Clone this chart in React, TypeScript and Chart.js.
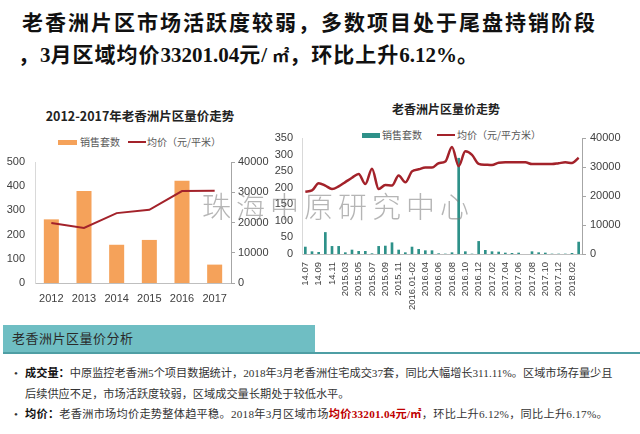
import React, { useEffect, useRef } from "react";
import { Chart, registerables } from "chart.js";
Chart.register(...registerables);

// ---- Left chart data (annual) ----
const yearCats = ["2012", "2013", "2014", "2015", "2016", "2017"];
const yearSales = [263, 380, 158, 178, 423, 76];
const yearPrice = [19800, 18200, 23100, 24200, 30400, 30500];
const yearSalesTicks = [0, 100, 200, 300, 400, 500];
const yearPriceTicks = [0, 10000, 20000, 30000, 40000];

// ---- Right chart data (monthly) ----
const monthCats = [
  "14.07", "14.08", "14.09", "14.10", "14.11", "2015.01-02",
  "2015.03", "2015.04", "2015.05", "2015.06", "2015.07", "2015.08",
  "2015.09", "2015.10", "2015.11", "2015.12", "2016.01-02", "2016.03",
  "2016.04", "2016.05", "2016.06", "2016.07", "2016.08", "2016.09",
  "2016.10", "2016.11", "2016.12", "2017.01", "2017.02", "2017.03",
  "2017.04", "2017.05", "2017.06", "2017.07", "2017.08", "2017.09",
  "2017.10", "2017.11", "2017.12", "2018.01", "2018.02", "2018.03",
];
const monthSales = [
  22, 8, 6, 66, 24, 24, 5, 13, 9, 9, 2, 24, 25, 35, 13, 5, 22, 15, 11, 11, 2,
  1, 5, 290, 8, 1, 39, 12, 8, 7, 4, 3, 4, 0, 8, 5, 4, 1, 1, 1, 3, 37,
];
const monthPrice = [
  21500, 21900, 24400, 23600, 22400, 23300, 24800, 26300, 27600, 24100, 29400,
  22400, 23800, 23600, 27100, 24700, 28500, 29200, 29800, 29800, 31300, 31900,
  36900, 30300, 35400, 34200, 31100, 30800, 30700, 31500, 31600, 31600, 31600,
  31600, 31000, 31000, 31000, 31000, 31300, 31600, 31400, 33201,
];

const SANS = '"Liberation Sans", "Noto Sans CJK SC", sans-serif';
const CJK = '"Noto Sans CJK SC", "Liberation Sans", sans-serif';
const SERIF = '"Liberation Serif", "Noto Sans CJK SC", serif';
const ORANGE = "#F5A25A";
const TEAL = "#2E9189";
const RED = "#A3222A";
const TICK = "#404040";
const plain = (v: any) => String(v);

function LeftChart() {
  const ref = useRef<HTMLCanvasElement>(null);
  useEffect(() => {
    const chart = new Chart(ref.current!, {
      type: "bar",
      data: {
        labels: yearCats,
        datasets: [
          {
            type: "line",
            label: "均价（元/平米）",
            data: yearPrice,
            yAxisID: "y1",
            borderColor: RED,
            borderWidth: 2,
            pointRadius: 0,
            tension: 0,
            order: 0,
          } as any,
          {
            type: "bar",
            label: "销售套数",
            data: yearSales,
            yAxisID: "y",
            backgroundColor: ORANGE,
            barPercentage: 0.46,
            categoryPercentage: 1,
            order: 1,
          },
        ],
      },
      options: {
        responsive: false,
        animation: false,
        layout: { padding: { top: 62, left: 0, right: 0, bottom: 0 } },
        plugins: { legend: { display: false }, tooltip: { enabled: false } },
        scales: {
          x: {
            grid: { display: false, drawTicks: false },
            border: { color: "#BFBFBF" },
            ticks: { color: TICK, font: { family: SANS, size: 11 }, padding: 9 },
            afterFit: (s: any) => { s.height = 27; },
          },
          y: {
            position: "left",
            min: 0,
            max: 500,
            afterBuildTicks: (s: any) => { s.ticks = yearSalesTicks.map((v) => ({ value: v })); },
            grid: { display: false, drawTicks: false },
            border: { color: "#D9D9D9" },
            ticks: { color: TICK, font: { family: SANS, size: 11 }, padding: 10, callback: plain },
            afterFit: (s: any) => { s.width = 35; },
          },
          y1: {
            position: "right",
            min: 0,
            max: 40000,
            afterBuildTicks: (s: any) => { s.ticks = yearPriceTicks.map((v) => ({ value: v })); },
            grid: { drawOnChartArea: false, drawTicks: true, tickLength: 4, color: "#A6A6A6" },
            border: { color: "#A6A6A6" },
            ticks: { color: TICK, font: { family: SANS, size: 11 }, padding: 3, callback: plain },
            afterFit: (s: any) => { s.width = 39; },
          },
        },
      },
    });
    return () => chart.destroy();
  }, []);
  return (
    <canvas ref={ref} width={270} height={210} style={{ position: "absolute", left: 0, top: 100 }} />
  );
}

function RightChart() {
  const ref = useRef<HTMLCanvasElement>(null);
  useEffect(() => {
    const chart = new Chart(ref.current!, {
      type: "bar",
      data: {
        labels: monthCats,
        datasets: [
          {
            type: "line",
            label: "均价（元/平方米）",
            data: monthPrice,
            yAxisID: "y1",
            borderColor: RED,
            borderWidth: 2.5,
            pointRadius: 0,
            tension: 0.4,
            cubicInterpolationMode: "monotone",
            order: 0,
          } as any,
          {
            type: "bar",
            label: "销售套数",
            data: monthSales,
            yAxisID: "y",
            backgroundColor: TEAL,
            barPercentage: 0.4,
            categoryPercentage: 1,
            order: 1,
          },
        ],
      },
      options: {
        responsive: false,
        animation: false,
        layout: { padding: { top: 38, left: 0, right: 0, bottom: 0 } },
        plugins: { legend: { display: false }, tooltip: { enabled: false } },
        scales: {
          x: {
            grid: { display: false, drawTicks: false },
            border: { color: "#BFBFBF" },
            ticks: {
              color: TICK,
              font: { family: SANS, size: 9.5 },
              padding: 8,
              autoSkip: false,
              minRotation: 90,
              maxRotation: 90,
              callback: (_v: any, i: number) => (i % 2 === 0 ? monthCats[i] : ""),
            },
            afterFit: (s: any) => { s.height = 61; },
          },
          y: {
            position: "left",
            min: 0,
            max: 350,
            ticks: { stepSize: 50, color: TICK, font: { family: SANS, size: 11 }, padding: 9, callback: plain },
            grid: { display: false, drawTicks: false },
            border: { color: "#D9D9D9" },
            afterFit: (s: any) => { s.width = 32; },
          },
          y1: {
            position: "right",
            min: 0,
            max: 40000,
            ticks: { stepSize: 5000, color: TICK, font: { family: SANS, size: 11 }, padding: 4, callback: plain },
            grid: { drawOnChartArea: false, drawTicks: true, tickLength: 4, color: "#A6A6A6" },
            border: { color: "#A6A6A6" },
            afterFit: (s: any) => { s.width = 58; },
          },
        },
      },
    });
    return () => chart.destroy();
  }, []);
  return (
    <canvas ref={ref} width={370} height={215} style={{ position: "absolute", left: 270, top: 100 }} />
  );
}

function T(props: {
  x: number; cy: number; size: number; h?: number; children: React.ReactNode;
  style?: React.CSSProperties; w?: number; align?: "left" | "center";
}) {
  const h = props.h ?? Math.round(props.size * 1.4);
  return (
    <div
      style={{
        position: "absolute",
        left: props.x,
        top: props.cy - h / 2,
        height: h,
        lineHeight: `${h}px`,
        fontSize: props.size,
        whiteSpace: "nowrap",
        width: props.w,
        textAlign: props.align ?? "left",
        ...props.style,
      }}
    >
      {props.children}
    </div>
  );
}

export default function App() {
  useEffect(() => {
    document.body.style.margin = "0";
  }, []);
  const headStyle: React.CSSProperties = {
    fontFamily: SERIF, fontWeight: 700, color: "#111", letterSpacing: 2,
  };
  const lat: React.CSSProperties = { letterSpacing: 0 };
  const bodyStyle: React.CSSProperties = {
    fontFamily: SERIF, color: "#333", letterSpacing: 0,
  };
  const legendStyle: React.CSSProperties = { fontFamily: CJK, color: "#595959" };
  return (
    <div style={{ position: "relative", width: 640, height: 434, background: "#fff", overflow: "hidden" }}>
      {/* Header */}
      <T x={22} cy={23} size={21} style={headStyle}>老香洲片区市场活跃度较弱，多数项目处于尾盘持销阶段</T>
      <T x={18} cy={55} size={21} style={{ ...headStyle, letterSpacing: 1 }}>
        ，<span style={lat}>3</span>月区域均价<span style={lat}>33201.04</span>元<span style={lat}>/ </span><span style={{ fontSize: 17, letterSpacing: 0 }}>㎡</span>，环比上升<span style={lat}>6.12%</span>。
      </T>

      {/* Left chart */}
      <T x={30} w={220} align="center" cy={116} size={12.5} style={{ fontFamily: CJK, fontWeight: 700, color: "#222" }}>
        2012-2017年老香洲片区量价走势
      </T>
      <div style={{ position: "absolute", left: 58, top: 140, width: 19, height: 5, background: ORANGE }} />
      <T x={80} cy={142} size={10} style={legendStyle}>销售套数</T>
      <div style={{ position: "absolute", left: 128, top: 141, width: 18, height: 2, background: RED }} />
      <T x={147} cy={142} size={10} style={legendStyle}>均价（元/平米）</T>
      <LeftChart />

      {/* Right chart */}
      <T x={360} w={172} align="center" cy={108} size={12} style={{ fontFamily: CJK, fontWeight: 700, color: "#222" }}>
        老香洲片区量价走势
      </T>
      <div style={{ position: "absolute", left: 362, top: 133, width: 18, height: 5, background: TEAL }} />
      <T x={382} cy={135} size={10} style={legendStyle}>销售套数</T>
      <div style={{ position: "absolute", left: 437, top: 134, width: 18, height: 2, background: RED }} />
      <T x={457} cy={135} size={10} style={legendStyle}>均价（元/平方米）</T>
      <RightChart />

      {/* Watermark */}
      <T x={202} cy={205} size={29} style={{ fontFamily: CJK, fontWeight: 300, color: "rgba(120,120,120,0.55)", letterSpacing: 5 }}>
        珠海中原研究中心
      </T>

      {/* Bottom section */}
      <div style={{ position: "absolute", left: 3, top: 325, width: 312, height: 27, background: "#6FBEC3" }} />
      <div style={{ position: "absolute", left: 3, top: 352, width: 637, height: 2, background: "#4E9EA4" }} />
      <T x={12} cy={339} size={13} style={{ fontFamily: SERIF, color: "#2a2a2a", letterSpacing: 0.5 }}>老香洲片区量价分析</T>

      <T x={14} cy={373} size={11.2} style={bodyStyle}>•</T>
      <T x={25} cy={373} size={11.2} style={bodyStyle}>
        <b style={{ color: "#111" }}>成交量：</b>中原监控老香洲5个项目数据统计，2018年3月老香洲住宅成交37套，同比大幅增长311.11%。区域市场存量少且
      </T>
      <T x={25} cy={394} size={11.2} style={bodyStyle}>后续供应不足，市场活跃度较弱，区域成交量长期处于较低水平。</T>
      <T x={14} cy={414} size={11.2} style={bodyStyle}>•</T>
      <T x={25} cy={414} size={11.2} style={{ ...bodyStyle, letterSpacing: 0.25 }}>
        <b style={{ color: "#111" }}>均价：</b>老香洲市场均价走势整体趋平稳。2018年3月区域市场
        <b style={{ color: "#C00000" }}>均价33201.04元/㎡</b>，环比上升6.12%，同比上升6.17%。
      </T>
    </div>
  );
}
